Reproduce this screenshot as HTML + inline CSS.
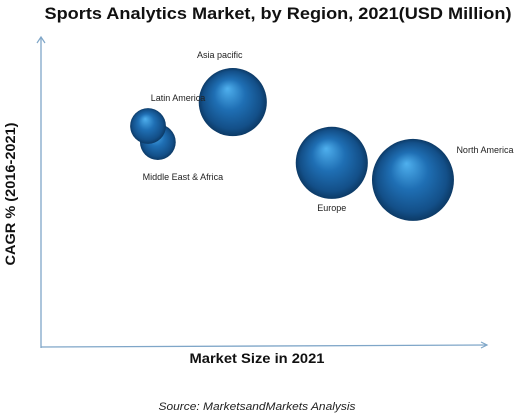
<!DOCTYPE html>
<html><head><meta charset="utf-8"><style>
html,body{margin:0;padding:0;background:#fff;}
svg{display:block;}
</style></head><body>
<svg id="chart" width="530" height="415" viewBox="0 0 530 415" xmlns="http://www.w3.org/2000/svg">
<defs>
<radialGradient id="ball" cx="0.5" cy="0.5" r="0.5" fx="0.42" fy="0.3">
<stop offset="0" stop-color="#4fb0ee"/>
<stop offset="0.45" stop-color="#1f6fb4"/>
<stop offset="0.85" stop-color="#134f88"/>
<stop offset="1" stop-color="#0c3a66"/>
</radialGradient>
</defs>
<text x="278" y="19" text-anchor="middle" textLength="467" lengthAdjust="spacingAndGlyphs" font-family="Liberation Sans, sans-serif" font-weight="bold" font-size="17" fill="#111">Sports Analytics Market, by Region, 2021(USD Million)</text>
<line x1="41" y1="348" x2="41" y2="38" stroke="#7fa6c8" stroke-width="1.3"/>
<polyline points="37,43 41,37 45,43" fill="none" stroke="#7fa6c8" stroke-width="1.2"/>
<line x1="41" y1="347" x2="487" y2="345" stroke="#7fa6c8" stroke-width="1.3"/>
<polyline points="481,342 487,345 481,348" fill="none" stroke="#7fa6c8" stroke-width="1.2"/>
<text transform="translate(15,194) rotate(-90)" text-anchor="middle" textLength="143" lengthAdjust="spacingAndGlyphs" font-family="Liberation Sans, sans-serif" font-weight="bold" font-size="14" fill="#111">CAGR % (2016-2021)</text>
<text x="257" y="363" text-anchor="middle" textLength="135" lengthAdjust="spacingAndGlyphs" font-family="Liberation Sans, sans-serif" font-weight="bold" font-size="14" fill="#111">Market Size in 2021</text>
<text x="257" y="410" text-anchor="middle" textLength="197" lengthAdjust="spacingAndGlyphs" font-family="Liberation Sans, sans-serif" font-style="italic" font-size="11" fill="#222">Source: MarketsandMarkets Analysis</text>
<g id="bubbles"></g>
<g id="labels"></g>
</svg>
<script>
const regions = ["Middle East & Africa", "Latin America", "Asia pacific", "Europe", "North America"];
const marketSize = [2.62, 2.40, 4.30, 6.52, 8.34];
const cagr = [6.61, 7.13, 7.90, 5.94, 5.39];
const bubbleSize = [3.2, 3.2, 11.6, 13.0, 16.8];
const labelDx = [25, 30, -13, 0, 72];
const labelDy = [38, -25, -44, 48, -27];

const xScale = v => 41 + v * 44.6;
const yScale = v => 347 - v * 31;
const rScale = v => 10 * Math.sqrt(v);

const NS = "http://www.w3.org/2000/svg";
const gB = document.getElementById("bubbles");
const gL = document.getElementById("labels");
regions.forEach((name, i) => {
  const c = document.createElementNS(NS, "circle");
  c.setAttribute("cx", xScale(marketSize[i]));
  c.setAttribute("cy", yScale(cagr[i]));
  c.setAttribute("r", rScale(bubbleSize[i]));
  c.setAttribute("fill", "url(#ball)");
  
  
  gB.appendChild(c);
  const t = document.createElementNS(NS, "text");
  t.setAttribute("x", xScale(marketSize[i]) + labelDx[i]);
  t.setAttribute("y", yScale(cagr[i]) + labelDy[i]);
  t.setAttribute("text-anchor", "middle");
  t.setAttribute("font-family", "Liberation Sans, sans-serif");
  t.setAttribute("font-size", "9");
  t.setAttribute("fill", "#222");
  t.textContent = name;
  
  
  gL.appendChild(t);
});
</script>
</body></html>
